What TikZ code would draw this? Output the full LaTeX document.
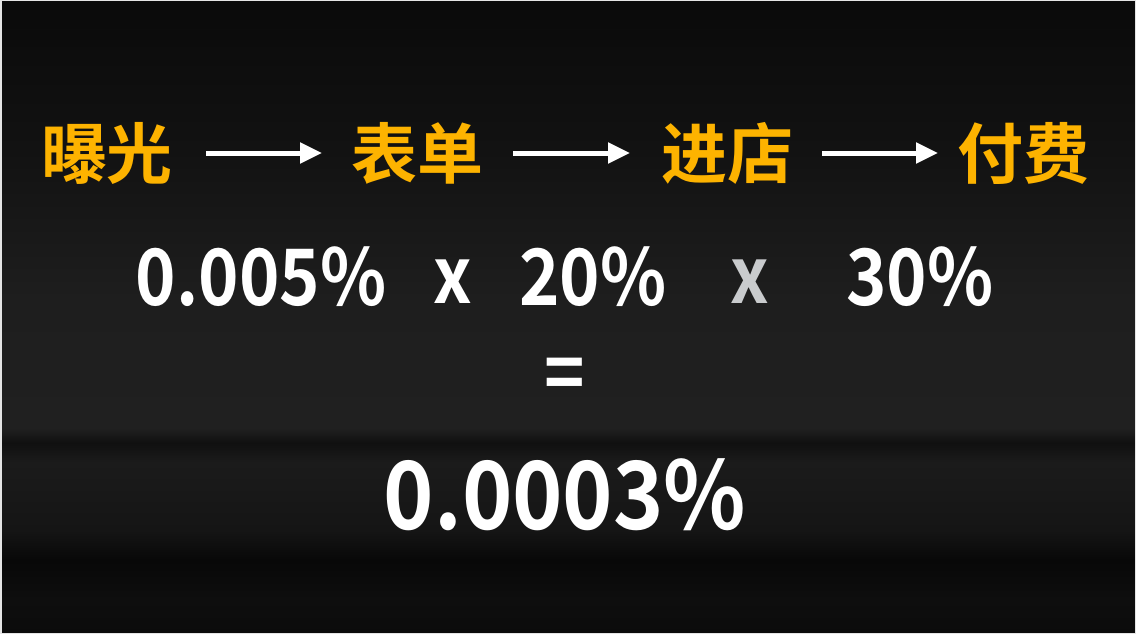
\documentclass[tikz,border=0pt]{standalone}
\usepackage{fontspec}
\newfontfamily\cjk{Noto Sans CJK SC Bold}
\usetikzlibrary{arrows.meta}
\definecolor{org}{HTML}{FDB300}
\definecolor{gx}{HTML}{C9CBCD}
\definecolor{edge}{HTML}{E4E4E4}
\begin{document}
\begin{tikzpicture}[x=1pt,y=-1pt,
  stage/.style={inner sep=0pt,text=org,font=\cjk\fontsize{66}{70}\selectfont},
  num/.style={inner sep=0pt,text=white,xscale=0.88,transform shape,font=\cjk\fontsize{78}{80}\selectfont},
  big/.style={inner sep=0pt,text=white,xscale=0.91,transform shape,font=\cjk\fontsize{94}{98}\selectfont},
  flow/.style={white,line width=5pt,-{Triangle[length=22pt,width=20pt]}}]
\useasboundingbox (0,0) rectangle (1136,634);
% background bands
\def\band#1#2#3#4{\fill[top color=#3,bottom color=#4] (0,#1) rectangle (1136,#2);}
\definecolor{b0}{HTML}{0A0A0A}
\definecolor{b1}{HTML}{121212}
\definecolor{b2}{HTML}{1E1E1E}
\definecolor{b3}{HTML}{202020}
\definecolor{b4}{HTML}{101010}
\definecolor{b5}{HTML}{1B1B1B}
\definecolor{b6}{HTML}{151515}
\definecolor{b7}{HTML}{080808}
\definecolor{b8}{HTML}{0E0E0E}
\definecolor{b9}{HTML}{0B0B0B}
\band{0}{150}{b0}{b1}
\band{150}{300}{b1}{b2}
\band{300}{428}{b2}{b3}
\band{428}{443}{b3}{b4}
\band{443}{462}{b4}{b5}
\band{462}{530}{b5}{b6}
\band{530}{560}{b6}{b7}
\band{560}{600}{b7}{b8}
\band{600}{634}{b8}{b9}
\draw[edge,line width=3pt] (0,0) rectangle (1136,634);
% stages
\node[stage] (s1) at (107,153) {曝光};
\node[stage] (s2) at (417,153) {表单};
\node[stage] (s3) at (727,153) {进店};
\node[stage] (s4) at (1023,153) {付费};
\coordinate (a1s) at (206,153); \coordinate (a1e) at (322,153);
\coordinate (a2s) at (513,153); \coordinate (a2e) at (630,153);
\coordinate (a3s) at (822,153); \coordinate (a3e) at (938,153);
\draw[flow] (a1s) -- (a1e);
\draw[flow] (a2s) -- (a2e);
\draw[flow] (a3s) -- (a3e);
% numbers
\node[num] (n1) at (261,277) {0.005\%};
\node[num] (m1) at (453,282) {x};
\node[num] (n2) at (593,277) {20\%};
\node[num,text=gx] (m2) at (750,282) {x};
\node[num] (n3) at (920,277) {30\%};
\node[num] (eq) at (565,380) {=};
\node[big] (res) at (565,495) {0.0003\%};
\end{tikzpicture}
\end{document}
